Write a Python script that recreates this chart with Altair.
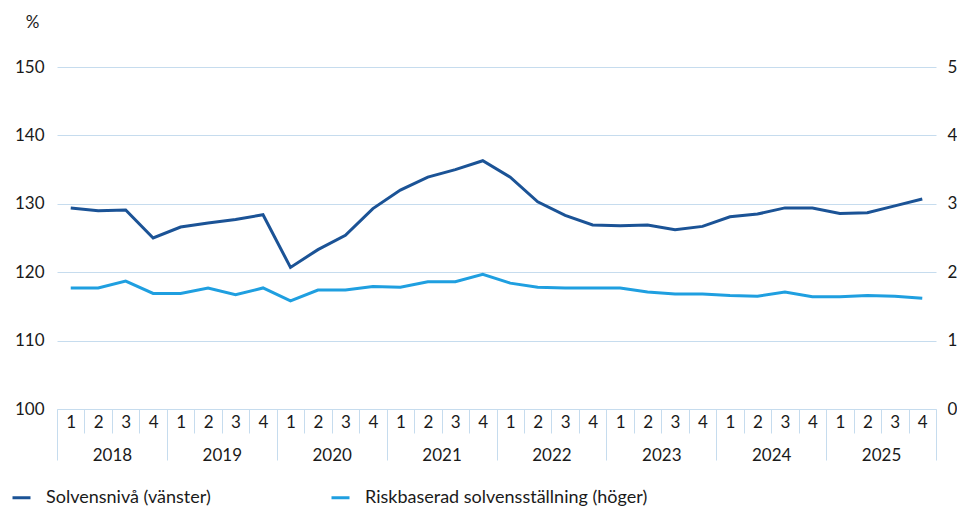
import json
import altair as alt
import pandas as pd

# ---- data ----
YEARS = ["2018", "2019", "2020", "2021", "2022", "2023", "2024", "2025"]
QUARTERS = ["1", "2", "3", "4"]

SOLVENSNIVA = [129.4, 129.0, 129.1, 125.0,
               126.6, 127.2, 127.7, 128.4,
               120.7, 123.3, 125.4, 129.3,
               132.0, 133.9, 135.0, 136.3,
               133.9, 130.3, 128.3, 126.9,
               126.8, 126.9, 126.2, 126.7,
               128.1, 128.5, 129.4, 129.4,
               128.6, 128.7, 129.7, 130.7]

RISKBASERAD = [1.77, 1.77, 1.87, 1.69,
               1.69, 1.77, 1.67, 1.77,
               1.58, 1.74, 1.74, 1.79,
               1.78, 1.86, 1.86, 1.97,
               1.84, 1.78, 1.77, 1.77,
               1.77, 1.71, 1.68, 1.68,
               1.66, 1.65, 1.71, 1.64,
               1.64, 1.66, 1.65, 1.62]

SERIES = ["Solvensnivå (vänster)", "Riskbaserad solvensställning (höger)"]

LEFT_TICKS = [100, 110, 120, 130, 140, 150]
RIGHT_TICKS = [0, 1, 2, 3, 4, 5]

DARK = "#1b5396"
LIGHT = "#1f9fe0"
GRID = "#c6dcee"
TEXT = "#1a1a1a"
FONT = "Lato"
FS = 17

n = len(SOLVENSNIVA)
df_solv = pd.DataFrame({"i": list(range(n)), "v": SOLVENSNIVA, "serie": SERIES[0]})
df_risk = pd.DataFrame({"i": list(range(n)), "v": RISKBASERAD, "serie": SERIES[1]})

xscale = alt.Scale(domain=[-0.5, n - 0.5], nice=False, zero=False)
quarter_expr = f"{json.dumps(QUARTERS)}[datum.value % 4]"
year_expr = f"{json.dumps(YEARS)}[floor(datum.value / 4)]"

color_scale = alt.Scale(domain=SERIES, range=[DARK, LIGHT])
legend = alt.Legend(
    orient="none", legendX=-46, legendY=420, direction="horizontal",
    title=None, symbolType="stroke", symbolSize=324, symbolStrokeWidth=3,
    labelFontSize=18, labelFont=FONT, labelColor=TEXT, labelOffset=14,
    labelLimit=500, columnPadding=114,
)
color = alt.Color("serie:N", scale=color_scale, legend=legend)

# dark line, left axis (its grid also gives the x-axis top line), quarter labels
dark = alt.Chart(df_solv).mark_line(strokeWidth=3).encode(
    x=alt.X("i:Q", scale=xscale, axis=alt.Axis(
        orient="bottom",
        values=list(range(n)), labelExpr=quarter_expr, ticks=False, tickSize=0,
        labelPadding=13, labelBaseline="middle", labelFontSize=FS, labelFont=FONT,
        labelColor=TEXT, labelFlush=False, labelOverlap=False, grid=False,
        domain=False, title=None)),
    y=alt.Y("v:Q", scale=alt.Scale(domain=[100, 150], nice=False, zero=False),
            axis=alt.Axis(values=LEFT_TICKS, orient="left", grid=True, gridColor=GRID,
                          gridWidth=1, ticks=False, domain=False, labelPadding=13,
                          labelFontSize=FS, labelFont=FONT, labelColor=TEXT,
                          title="%", titleAngle=0, titleX=-25, titleY=-45,
                          titleAlign="center", titleBaseline="middle",
                          titleFontWeight="normal", titleFontSize=FS, titleFont=FONT,
                          titleColor=TEXT)),
    color=color,
)

# light line, right axis, quarter separator ticks
light = alt.Chart(df_risk).mark_line(strokeWidth=3).encode(
    x=alt.X("i:Q", scale=xscale, axis=alt.Axis(
        orient="bottom",
        values=[k + 0.5 for k in range(-1, n)], labels=False, ticks=True,
        tickSize=24, tickColor=GRID, tickWidth=1, domain=False, grid=False, title=None)),
    y=alt.Y("v:Q", scale=alt.Scale(domain=[0, 5], nice=False, zero=False),
            axis=alt.Axis(values=RIGHT_TICKS, orient="right", grid=False, ticks=False,
                          domain=False, labelPadding=11, labelFontSize=FS, labelFont=FONT,
                          labelColor=TEXT, title=None)),
    color=color,
)

# year separator ticks
year_ticks = alt.Chart(df_solv).mark_point(opacity=0).encode(
    x=alt.X("i:Q", scale=xscale, axis=alt.Axis(
        orient="bottom",
        values=[4 * k - 0.5 for k in range(len(YEARS) + 1)], labels=False, ticks=True,
        tickSize=51, tickColor=GRID, tickWidth=1, domain=False, grid=False, title=None)),
    y=alt.Y("v:Q", scale=alt.Scale(domain=[100, 150]), axis=None),
)

# year labels
year_labels = alt.Chart(df_solv).mark_point(opacity=0).encode(
    x=alt.X("i:Q", scale=xscale, axis=alt.Axis(
        orient="bottom",
        values=[4 * k + 1.5 for k in range(len(YEARS))], labelExpr=year_expr,
        ticks=False, tickSize=0, labelPadding=46, labelBaseline="middle",
        labelFontSize=FS, labelFont=FONT, labelColor=TEXT, labelFlush=False,
        labelOverlap=False, domain=False, grid=False, title=None)),
    y=alt.Y("v:Q", scale=alt.Scale(domain=[100, 150]), axis=None),
)

chart = alt.layer(dark, light, year_ticks, year_labels).resolve_scale(
    y="independent", x="shared", color="shared"
).resolve_axis(x="independent").properties(
    width=879, height=342,
    autosize=alt.AutoSizeParams(type="none"),
    padding={"left": 49, "top": 59, "right": 21, "bottom": 102},
).configure(font=FONT).configure_axis(
    domain=False, grid=False
).configure_view(stroke=None, strokeOpacity=0)

chart.save("out.html", embed_options={"renderer": "svg", "actions": False})
